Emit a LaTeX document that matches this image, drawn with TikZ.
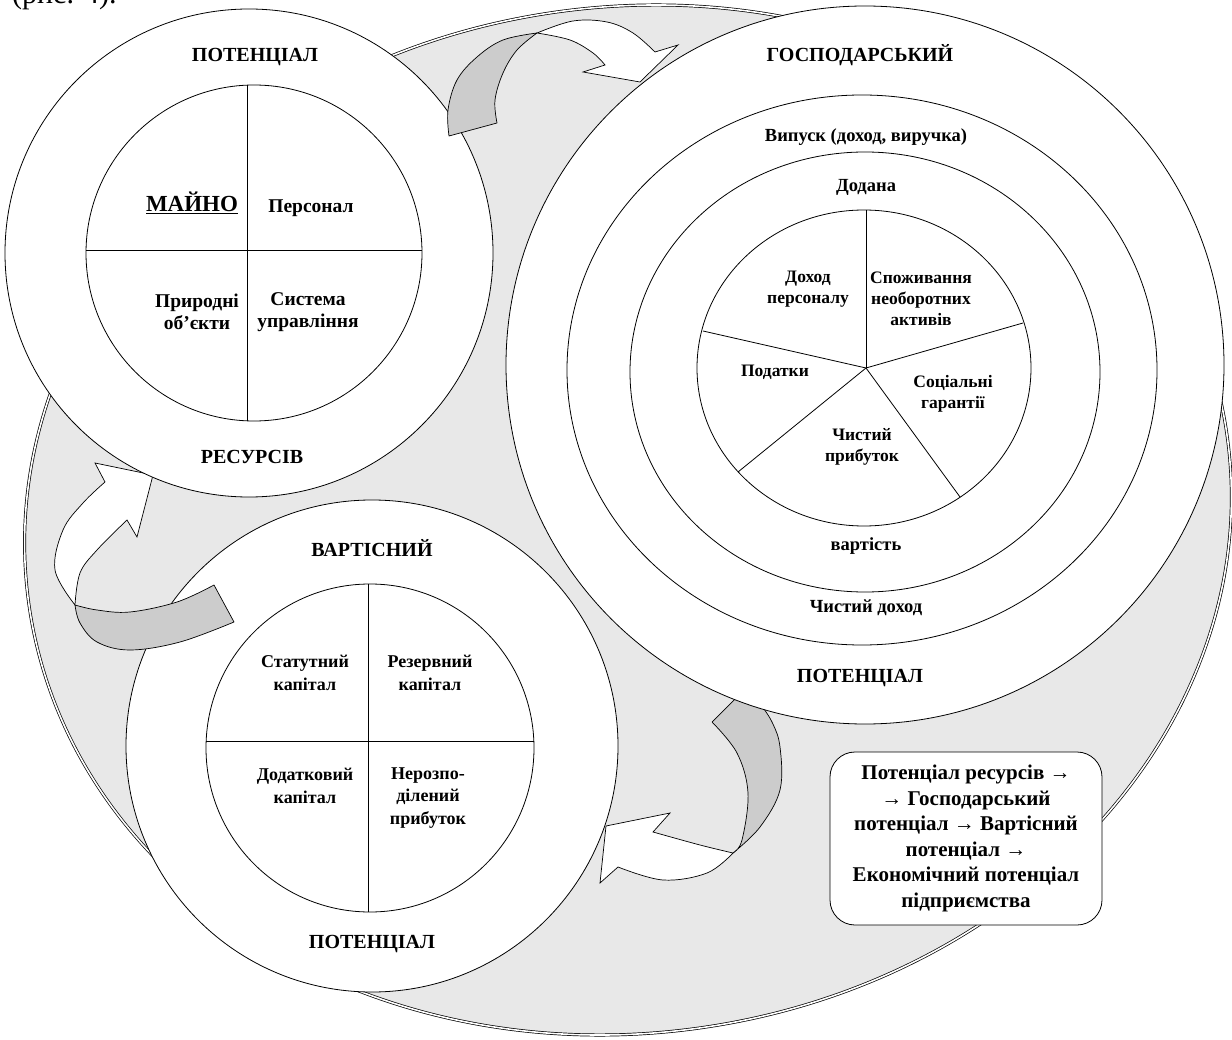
\documentclass[tikz,border=0pt]{standalone}
\usepackage{fontspec}
\setmainfont{Liberation Serif}
\definecolor{ellgray}{RGB}{232,232,232}
\definecolor{ribbon}{RGB}{204,204,204}
\tikzset{
  disc/.style={draw=black, line width=0.8pt, fill=white},
  ring/.style={draw=black, line width=0.8pt},
  tail/.style={draw=black, line width=0.7pt, fill=ribbon, line join=round},
  headarrow/.style={draw=black, line width=0.7pt, fill=white, line join=miter},
  ttl/.style={font=\fontsize{20}{24}\selectfont\bfseries, inner sep=0pt},
  lbl/.style={font=\fontsize{19.5}{21.5}\selectfont\bfseries, align=center, inner sep=0pt},
  rtxt/.style={font=\fontsize{18.5}{22}\selectfont\bfseries, inner sep=0pt},
  pietxt/.style={font=\fontsize{17.5}{21}\selectfont\bfseries, align=center, inner sep=0pt},
  qtxt/.style={font=\fontsize{18}{22.5}\selectfont\bfseries, align=center, inner sep=0pt},
  summary/.style={draw=black, line width=0.8pt, fill=white, rounded corners=25pt,
    minimum width=272pt, minimum height=173pt, align=center, inner sep=0pt,
    font=\fontsize{21}{25.5}\selectfont\bfseries},
}
\begin{document}
\begin{tikzpicture}[x=1pt, y=-1pt]
\useasboundingbox (0,0) rectangle (1232,1040);

% big background ellipse
\draw[fill=ellgray, draw=black, line width=0.7pt, double=white, double distance=1.6pt,
      rotate around={8:(628,520)}] (628,520) ellipse [x radius=605pt, y radius=513pt];

% arrow 3 (right circle -> bottom circle)
\draw[tail] (712,722) -- (752,682)
  -- plot[smooth, tension=0.6] coordinates {(752,682) (757,698) (772,722) (780,747) (780,790) (760,827) (733,853)}
  -- plot[smooth, tension=0.6] coordinates {(733,853) (742,840) (748,793) (737,753) (712,722)} -- cycle;
\draw[headarrow] plot[smooth, tension=0.6] coordinates {(733,853) (707,873) (663,880) (618,867)}
  -- (600,883) -- (606,826) -- (670,813) -- (653,832)
  -- plot[smooth, tension=0.6] coordinates {(653,832) (700,845) (733,853)} -- cycle;

% bottom circle: ВАРТІСНИЙ ПОТЕНЦІАЛ
\draw[disc] (372,746) circle[radius=246pt];
\draw[ring] (370,748) circle[radius=164pt];
\begin{scope}
  \clip (370,748) circle[radius=164pt];
  \draw[line width=0.8pt] (368,560) -- (368,940);
  \draw[line width=0.8pt] (180,741) -- (560,741);
\end{scope}
\node[ttl] (vtitle) at (372,548) {ВАРТІСНИЙ};
\node[ttl] (vpot) at (372,944) {ПОТЕНЦІАЛ};
\node[qtxt] (statut) at (305,673) {Статутний\\капітал};
\node[qtxt] (rezerv) at (430,673) {Резервний\\капітал};
\node[qtxt] (dodat) at (305,786) {Додатковий\\капітал};
\node[qtxt] (nerozp) at (428,798) {Нерозпо-\\ділений\\прибуток};

% arrow 2 (bottom circle -> left circle)
\draw[tail] (214,585) -- (234,622)
  -- plot[smooth, tension=0.6] coordinates {(234,622) (180,642) (130,650) (97,642) (80,623) (75,605)}
  -- plot[smooth, tension=0.6] coordinates {(75,605) (97,610) (130,612) (177,602) (214,585)} -- cycle;
\draw[headarrow] plot[smooth, tension=0.6] coordinates {(75,605) (55,570) (63,530) (83,503) (105,482)}
  -- (95,463) -- (153,475) -- (137,537) -- (127,520)
  -- plot[smooth, tension=0.6] coordinates {(127,520) (97,550) (80,573) (75,605)} -- cycle;

% left circle: ПОТЕНЦІАЛ РЕСУРСІВ
\draw[disc] (249,253) circle[radius=244pt];
\draw[ring] (254,253) circle[radius=168pt];
\begin{scope}
  \clip (254,253) circle[radius=168pt];
  \draw[line width=0.8pt] (247,70) -- (247,440);
  \draw[line width=0.8pt] (70,250) -- (440,250);
\end{scope}
\node[ttl] (rtitle) at (255,57) {ПОТЕНЦІАЛ};
\node[ttl] (rres) at (252,457) {РЕСУРСІВ};
\node[font=\fontsize{23}{26}\selectfont\bfseries, inner sep=0pt, anchor=base] (mayno) at (192,212) {\underline{МАЙНО}};
\node[lbl] (person) at (311,208) {Персонал};
\node[lbl] (pryrod) at (197,312) {Природні\\об’єкти};
\node[lbl] (system) at (308,312) {Система\\управління};

% arrow 1 (left circle -> right circle)
\draw[tail] (449,136) -- (497,123)
  -- plot[smooth, tension=0.6] coordinates {(497,123) (495,100) (503,73) (517,50) (537,33)}
  -- plot[smooth, tension=0.6] coordinates {(537,33) (503,40) (477,57) (457,80) (448,110) (449,136)} -- cycle;
\draw[headarrow] plot[smooth, tension=0.6] coordinates {(537,33) (573,21) (607,22) (633,33) (655,52)}
  -- (678,45) -- (640,82) -- (583,72) -- (605,65)
  -- plot[smooth, tension=0.6] coordinates {(605,65) (593,53) (570,40) (537,33)} -- cycle;

% right circle: ГОСПОДАРСЬКИЙ ПОТЕНЦІАЛ
\draw[disc] (865,365) circle[radius=359pt];
\draw[ring] (862,370) ellipse[x radius=295pt, y radius=275pt];
\draw[ring] (865,372) ellipse[x radius=235pt, y radius=220pt];
\draw[ring] (864,368) ellipse[x radius=167pt, y radius=158pt];
\coordinate (pc) at (866,368);
\draw[line width=0.8pt] (pc) -- (866,210);
\draw[line width=0.8pt] (pc) -- (1023,323);
\draw[line width=0.8pt] (pc) -- (960,497);
\draw[line width=0.8pt] (pc) -- (738,472);
\draw[line width=0.8pt] (pc) -- (703,331);
\node[ttl] (gtitle) at (860,55) {ГОСПОДАРСЬКИЙ};
\node[rtxt] (vypusk) at (866,137) {Випуск (доход, виручка)};
\node[rtxt] (dodana) at (866,187) {Додана};
\node[rtxt] (vartist) at (866,546) {вартість};
\node[rtxt] (chdohid) at (866,608) {Чистий доход};
\node[ttl] (gpot) at (860,678) {ПОТЕНЦІАЛ};
\node[pietxt] (dohpers) at (808,289) {Доход\\персоналу};
\node[pietxt] (spozh) at (921,299) {Споживання\\необоротних\\активів};
\node[pietxt] (podat) at (775,372) {Податки};
\node[pietxt] (socgar) at (953,394) {Соціальні\\гарантії};
\node[pietxt] (chprib) at (862,447) {Чистий\\прибуток};

% summary box
\node[summary] (chain) at (966,838.5) {Потенціал ресурсів →\\→ Господарський\\потенціал → Вартісний\\потенціал →\\Економічний потенціал\\підприємства};

% cut caption at the top
\node[anchor=base west, font=\fontsize{30}{34}\selectfont, inner sep=0pt] (caption) at (12,4) {(рис. 4).};
\end{tikzpicture}
\end{document}
